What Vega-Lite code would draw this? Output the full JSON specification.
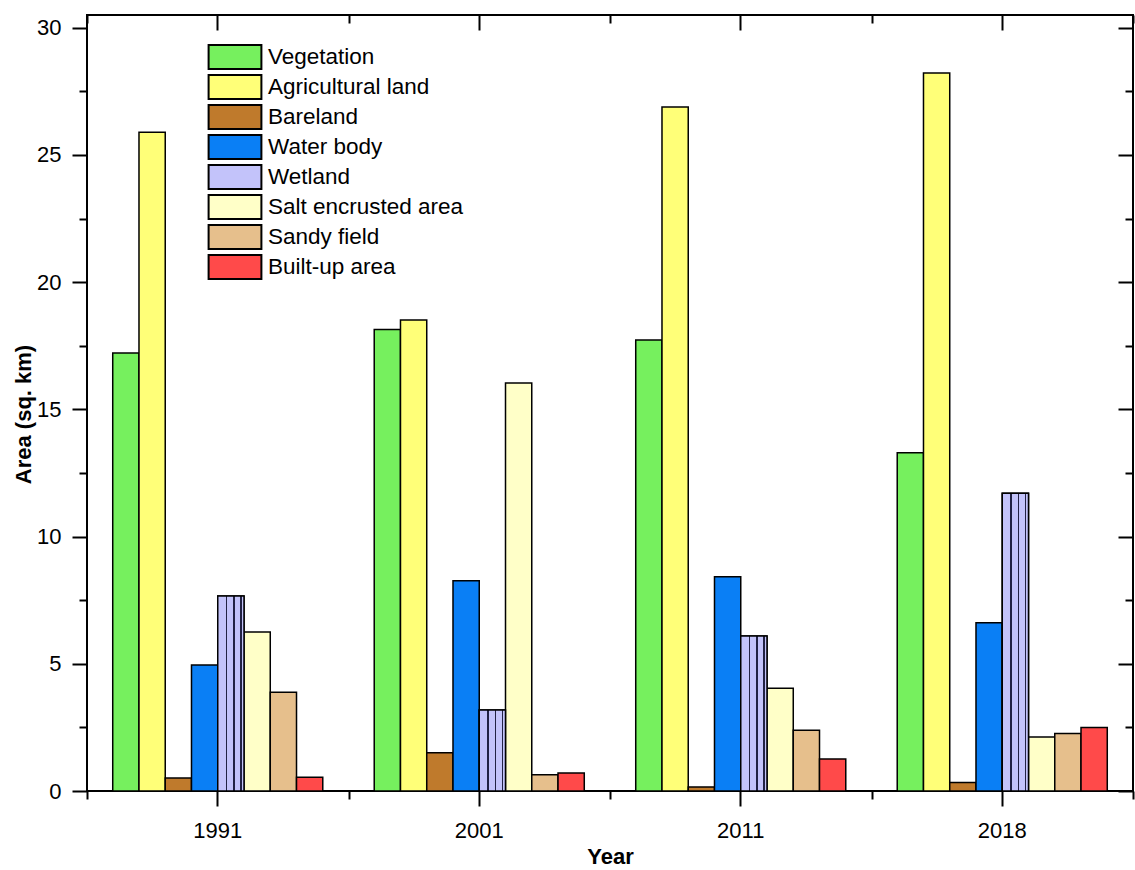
{
  "$schema": "https://vega.github.io/schema/vega-lite/v6.json",
  "autosize": {"type": "none"},
  "width": 1046,
  "height": 776,
  "padding": {"left": 87, "top": 15, "right": 2, "bottom": 79},
  "config": {
    "font": "Liberation Sans",
    "view": {"stroke": "black", "strokeWidth": 2},
    "axis": {
      "domain": false,
      "grid": false,
      "tickColor": "black",
      "tickWidth": 2,
      "labelColor": "black",
      "labelFont": "Liberation Sans",
      "labelFontSize": 22,
      "titleColor": "black",
      "titleFont": "Liberation Sans",
      "titleFontSize": 22,
      "titleFontWeight": "bold"
    },
    "legend": {
      "labelFont": "Liberation Sans",
      "labelFontSize": 22.5,
      "labelColor": "black",
      "labelLimit": 400
    }
  },
  "data": {
    "values": [
      {"year": "1991", "class": "Vegetation", "area": 17.22},
      {"year": "1991", "class": "Agricultural land", "area": 25.89},
      {"year": "1991", "class": "Bareland", "area": 0.51},
      {"year": "1991", "class": "Water body", "area": 4.95},
      {"year": "1991", "class": "Wetland", "area": 7.66},
      {"year": "1991", "class": "Salt encrusted area", "area": 6.25},
      {"year": "1991", "class": "Sandy field", "area": 3.88},
      {"year": "1991", "class": "Built-up area", "area": 0.54},
      {"year": "2001", "class": "Vegetation", "area": 18.14},
      {"year": "2001", "class": "Agricultural land", "area": 18.51},
      {"year": "2001", "class": "Bareland", "area": 1.5},
      {"year": "2001", "class": "Water body", "area": 8.26},
      {"year": "2001", "class": "Wetland", "area": 3.18},
      {"year": "2001", "class": "Salt encrusted area", "area": 16.04},
      {"year": "2001", "class": "Sandy field", "area": 0.64},
      {"year": "2001", "class": "Built-up area", "area": 0.71},
      {"year": "2011", "class": "Vegetation", "area": 17.73},
      {"year": "2011", "class": "Agricultural land", "area": 26.88},
      {"year": "2011", "class": "Bareland", "area": 0.16},
      {"year": "2011", "class": "Water body", "area": 8.42},
      {"year": "2011", "class": "Wetland", "area": 6.09},
      {"year": "2011", "class": "Salt encrusted area", "area": 4.04},
      {"year": "2011", "class": "Sandy field", "area": 2.39},
      {"year": "2011", "class": "Built-up area", "area": 1.26},
      {"year": "2018", "class": "Vegetation", "area": 13.29},
      {"year": "2018", "class": "Agricultural land", "area": 28.22},
      {"year": "2018", "class": "Bareland", "area": 0.33},
      {"year": "2018", "class": "Water body", "area": 6.61},
      {"year": "2018", "class": "Wetland", "area": 11.7},
      {"year": "2018", "class": "Salt encrusted area", "area": 2.12},
      {"year": "2018", "class": "Sandy field", "area": 2.26},
      {"year": "2018", "class": "Built-up area", "area": 2.5}
    ]
  },
  "encoding": {
    "xOffset": {
      "field": "class",
      "type": "nominal",
      "scale": {
        "domain": ["Vegetation", "Agricultural land", "Bareland", "Water body", "Wetland", "Salt encrusted area", "Sandy field", "Built-up area"],
        "paddingInner": 0,
        "paddingOuter": 0.98
      }
    }
  },
  "layer": [
    {
      "mark": {"type": "bar", "stroke": "black", "strokeWidth": 1.5, "fillOpacity": 1},
      "encoding": {
        "x": {
          "field": "year",
          "type": "nominal",
          "scale": {"paddingInner": 0, "paddingOuter": 0},
          "axis": {
            "orient": "bottom",
            "title": "Year",
            "labelAngle": 0,
            "bandPosition": 0.5,
            "tickSize": 15,
            "labelBaseline": "alphabetic",
            "labelPadding": 31,
            "titleBaseline": "alphabetic",
            "titleY": 72
          }
        },
        "y": {
          "field": "area",
          "type": "quantitative",
          "scale": {"domain": [0, 30.5], "nice": false, "zero": true},
          "axis": {
            "orient": "left",
            "title": "Area (sq. km)",
            "values": [0, 5, 10, 15, 20, 25, 30],
            "tickSize": 15,
            "labelPadding": 11,
            "titleX": -64,
            "titleY": 399,
            "titleAngle": -90,
            "titleAlign": "center",
            "titleBaseline": "middle"
          }
        },
        "fill": {
          "field": "class",
          "type": "nominal",
          "scale": {
            "domain": ["Vegetation", "Agricultural land", "Bareland", "Water body", "Wetland", "Salt encrusted area", "Sandy field", "Built-up area"],
            "range": ["#76F05E", "#FFFF78", "#BF7A2C", "#0A7FF5", "#C3C3FA", "#FFFFC8", "#E6BF8C", "#FF4A4A"]
          },
          "legend": {
            "title": null,
            "orient": "none",
            "legendX": 135,
            "legendY": 29,
            "padding": 0,
            "symbolType": "M-2.2,-1L2.2,-1L2.2,1L-2.2,1Z",
            "symbolSize": 576,
            "symbolStrokeColor": "black",
            "symbolStrokeWidth": 2,
            "symbolOpacity": 1,
            "labelOffset": 20,
            "rowPadding": -2
          }
        }
      }
    },
    {
      "transform": [{"filter": "datum['class'] == 'Wetland'"}],
      "mark": {
        "type": "bar",
        "stroke": "black",
        "strokeWidth": 1.5,
        "fill": {
          "gradient": "linear",
          "x1": 0, "y1": 0, "x2": 1, "y2": 0,
          "stops": [
            {"offset": 0, "color": "#C3C3FA"},
            {"offset": 0.31, "color": "#C3C3FA"},
            {"offset": 0.31, "color": "#222244"},
            {"offset": 0.36, "color": "#222244"},
            {"offset": 0.36, "color": "#C3C3FA"},
            {"offset": 0.59, "color": "#C3C3FA"},
            {"offset": 0.59, "color": "#222244"},
            {"offset": 0.64, "color": "#222244"},
            {"offset": 0.64, "color": "#C3C3FA"},
            {"offset": 0.86, "color": "#C3C3FA"},
            {"offset": 0.86, "color": "#222244"},
            {"offset": 0.91, "color": "#222244"},
            {"offset": 0.91, "color": "#C3C3FA"},
            {"offset": 1, "color": "#C3C3FA"}
          ]
        }
      },
      "encoding": {
        "x": {"field": "year", "type": "nominal", "axis": null},
        "y": {"field": "area", "type": "quantitative", "axis": null}
      }
    },
    {
      "mark": {"type": "bar", "opacity": 0},
      "encoding": {
        "x": {
          "field": "year",
          "type": "nominal",
          "axis": {
            "orient": "bottom",
            "title": null,
            "labels": false,
            "tickBand": "extent",
            "tickSize": 8
          }
        },
        "y": {
          "field": "area",
          "type": "quantitative",
          "axis": {
            "orient": "left",
            "title": null,
            "labels": false,
            "values": [2.5, 7.5, 12.5, 17.5, 22.5, 27.5],
            "tickSize": 8
          }
        }
      }
    },
    {
      "mark": {"type": "bar", "opacity": 0},
      "encoding": {
        "x": {
          "field": "year",
          "type": "nominal",
          "axis": {
            "orient": "top",
            "title": null,
            "labels": false,
            "bandPosition": 0.5,
            "tickSize": -15
          }
        },
        "y": {
          "field": "area",
          "type": "quantitative",
          "axis": {
            "orient": "right",
            "title": null,
            "labels": false,
            "values": [0, 5, 10, 15, 20, 25, 30],
            "tickSize": -15
          }
        }
      }
    },
    {
      "mark": {"type": "bar", "opacity": 0},
      "encoding": {
        "x": {
          "field": "year",
          "type": "nominal",
          "axis": {
            "orient": "top",
            "title": null,
            "labels": false,
            "tickBand": "extent",
            "tickSize": -8
          }
        },
        "y": {
          "field": "area",
          "type": "quantitative",
          "axis": {
            "orient": "right",
            "title": null,
            "labels": false,
            "values": [2.5, 7.5, 12.5, 17.5, 22.5, 27.5],
            "tickSize": -8
          }
        }
      }
    }
  ],
  "resolve": {"axis": {"x": "independent", "y": "independent"}}
}
